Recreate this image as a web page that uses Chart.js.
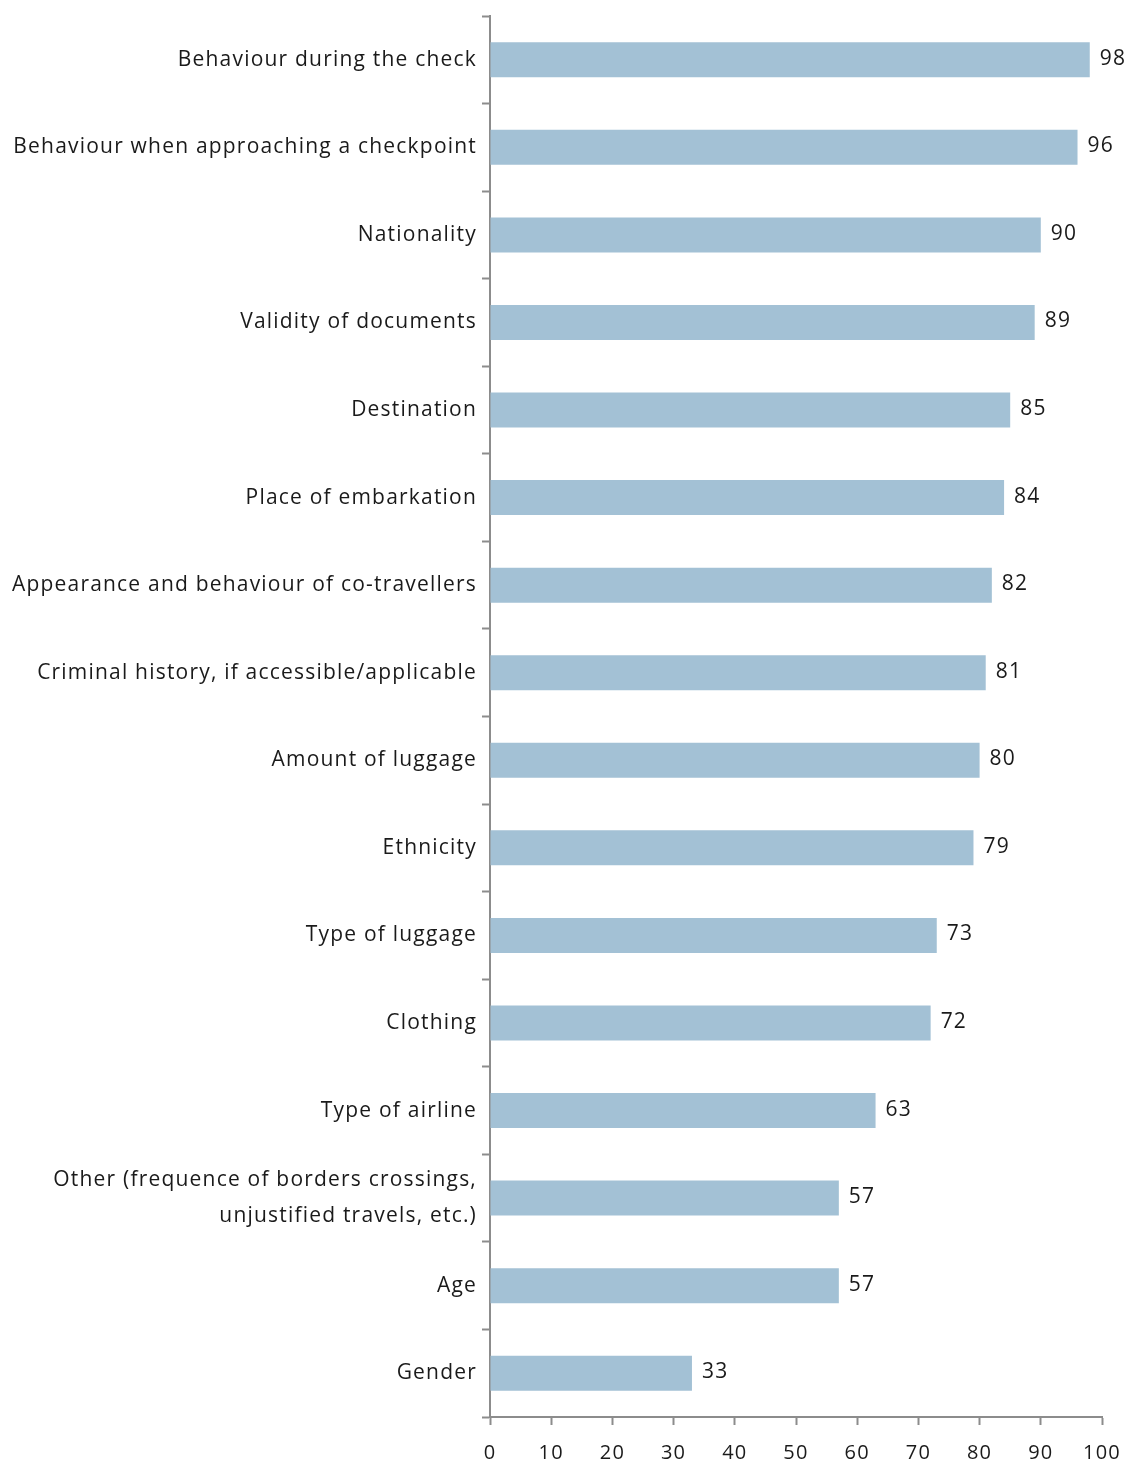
<!DOCTYPE html>
<html><head><meta charset="utf-8">
<script src="https://cdn.jsdelivr.net/npm/chart.js@4.4.1/dist/chart.umd.min.js"></script>
<style>html,body{margin:0;padding:0;background:#fff}#wrap{width:1129px;height:1463px}</style>
</head><body><div id="wrap"><canvas id="c" width="1129" height="1463"></canvas></div>
<script>
const categories = [
  "Behaviour during the check",
  "Behaviour when approaching a checkpoint",
  "Nationality",
  "Validity of documents",
  "Destination",
  "Place of embarkation",
  "Appearance and behaviour of co-travellers",
  "Criminal history, if accessible/applicable",
  "Amount of luggage",
  "Ethnicity",
  "Type of luggage",
  "Clothing",
  "Type of airline",
  ["Other (frequence of borders crossings,", "unjustified travels, etc.)"],
  "Age",
  "Gender"
];
const values = [98, 96, 90, 89, 85, 84, 82, 81, 80, 79, 73, 72, 63, 57, 57, 33];
const xTicks = [0, 10, 20, 30, 40, 50, 60, 70, 80, 90, 100];

const FONT = "'Open Sans', sans-serif";
const TEXT = '#1a1a1a';
const AXIS = '#8c8c8c';

const spacing = {
  id: 'spacing',
  beforeDraw(chart) { chart.ctx.letterSpacing = '1.2px'; },
  afterDraw(chart) { chart.ctx.letterSpacing = '0px'; }
};

const valueLabels = {
  id: 'valueLabels',
  afterDatasetsDraw(chart) {
    const ctx = chart.ctx;
    const meta = chart.getDatasetMeta(0);
    ctx.save();
    ctx.letterSpacing = '1.2px';
    ctx.font = "21px " + FONT;
    ctx.fillStyle = TEXT;
    ctx.textAlign = 'left';
    ctx.textBaseline = 'middle';
    meta.data.forEach((bar, i) => {
      ctx.fillText(String(values[i]), bar.x + 10, bar.y - 1);
    });
    ctx.restore();
  }
};

new Chart(document.getElementById('c'), {
  type: 'bar',
  data: {
    labels: categories,
    datasets: [{
      data: values,
      backgroundColor: '#a3c1d5',
      borderWidth: 0,
      categoryPercentage: 0.4,
      barPercentage: 1.0
    }]
  },
  options: {
    indexAxis: 'y',
    responsive: false,
    animation: false,
    devicePixelRatio: 1,
    layout: { padding: { top: 16, right: 27, left: 0, bottom: 0 } },
    plugins: { legend: { display: false }, tooltip: { enabled: false } },
    scales: {
      x: {
        min: 0, max: 100,
        afterBuildTicks(axis) { axis.ticks = xTicks.map(v => ({ value: v })); },
        afterFit(axis) { axis.height = 46; axis.paddingLeft = 0; axis.paddingRight = 0; },
        grid: { drawOnChartArea: false, drawTicks: true, tickLength: 8, tickColor: AXIS, tickWidth: 2 },
        border: { display: true, color: AXIS, width: 2 },
        ticks: { color: TEXT, font: { family: FONT, size: 20 }, padding: 16, maxRotation: 0 }
      },
      y: {
        afterFit(axis) { axis.width = 490; axis.paddingTop = 0; axis.paddingBottom = 0; },
        grid: { offset: true, drawOnChartArea: false, drawTicks: true, tickLength: 8, tickColor: AXIS, tickWidth: 2 },
        border: { display: true, color: AXIS, width: 2 },
        ticks: { color: TEXT, font: { family: FONT, size: 21, lineHeight: '36px' }, padding: 5, autoSkip: false }
      }
    }
  },
  plugins: [spacing, valueLabels]
});
</script></body></html>
